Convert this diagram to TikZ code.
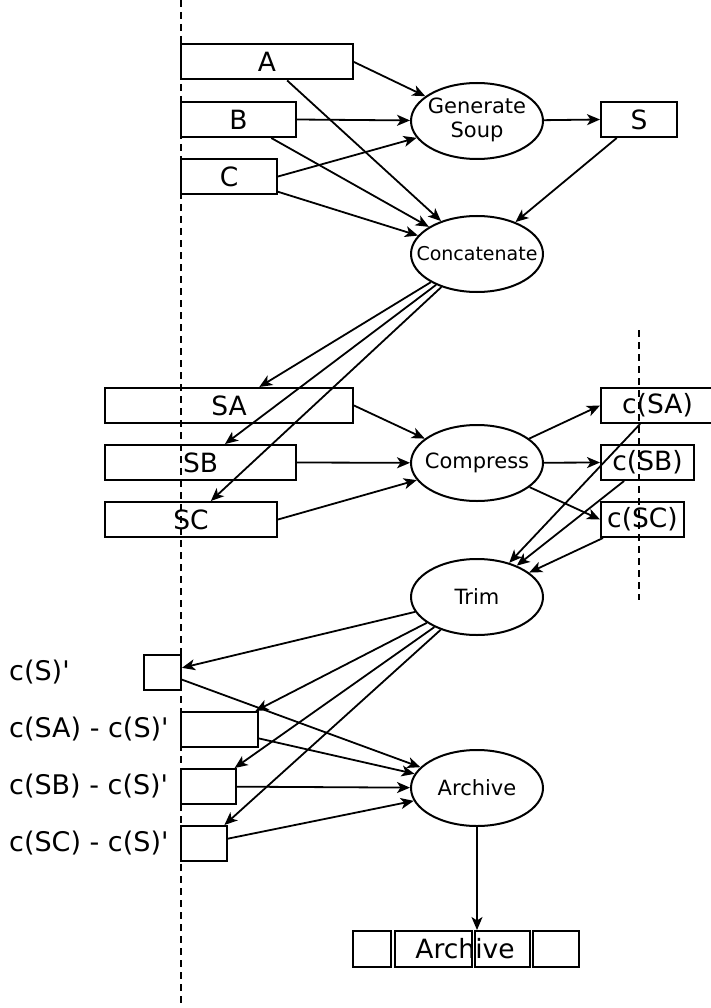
\documentclass[tikz,border=0pt]{standalone}
\usepackage{fontspec}
\setmainfont{DejaVu Sans}
\usetikzlibrary{shapes.geometric,arrows.meta}
\begin{document}
\begin{tikzpicture}[x=1pt,y=-1pt,
  box/.style={draw,line width=2pt,rectangle,inner sep=0pt,minimum height=35pt,font=\fontsize{26.5}{28}\selectfont},
  proc/.style={draw,line width=2pt,ellipse,inner sep=0pt,minimum width=132pt,minimum height=76pt,font=\fontsize{21}{22}\selectfont},
  lbl/.style={anchor=west,inner sep=0pt,font=\fontsize{27}{28}\selectfont},
  arr/.style={line width=1.8pt,-{Stealth[length=13pt,width=11pt,inset=3.5pt]}},
  dashline/.style={line width=1.8pt,dash pattern=on 7pt off 5pt}]
\useasboundingbox (0,0) rectangle (711,1008);
% dashed guides
\draw[dashline] (181,0) -- (181,1008);
\draw[dashline] (639,330) -- (639,600);
% input boxes
\node[box,minimum width=172pt] (A) at (267,62) {A};
\node[box,minimum width=115pt] (B) at (238.5,119.5) {B};
\node[box,minimum width=96pt] (C) at (229,176.5) {C};
\node[box,minimum width=76pt] (S) at (639,119.5) {S};
\node[box,minimum width=248pt] (SA) at (229,405.5) {SA};
\node[box,minimum width=191pt] (SB) at (200.5,462.5) {SB};
\node[box,minimum width=172pt] (SC) at (191,519.5) {SC};
\node[box,minimum width=113pt] (cSA) at (657.5,405.5) {c(SA)};
\node[box,minimum width=93pt] (cSB) at (647.5,462.5) {c(SB)};
\node[box,minimum width=83pt] (cSC) at (642.5,519.5) {c(SC)};
\node[box,minimum width=37pt] (cS) at (162.5,672.5) {};
\node[box,minimum width=77pt] (dSA) at (219.5,729.5) {};
\node[box,minimum width=55pt] (dSB) at (208.5,786.5) {};
\node[box,minimum width=46pt] (dSC) at (204,843.5) {};
% left labels
\node[lbl] (lS) at (9,672.5) {c(S)\textquotesingle};
\node[lbl] (lSA) at (9,729.5) {c(SA) - c(S)\textquotesingle};
\node[lbl] (lSB) at (9,786.5) {c(SB) - c(S)\textquotesingle};
\node[lbl] (lSC) at (9,843.5) {c(SC) - c(S)\textquotesingle};
% archive row
\node[box,minimum width=38pt,minimum height=36pt] (ab1) at (372,949) {};
\node[box,minimum width=77pt,minimum height=36pt] (ab2) at (433.5,949) {};
\node[box,minimum width=55pt,minimum height=36pt] (ab3) at (502.5,949) {};
\node[box,minimum width=46pt,minimum height=36pt] (ab4) at (556,949) {};
\node[inner sep=0pt,font=\fontsize{26.5}{28}\selectfont] (atext) at (465,949) {Archive};
% processes
\node[proc] (gen) at (477,121) {\makebox[0pt]{\raisebox{-2pt}{\begin{tabular}{@{}c@{}}Generate\\[2pt]Soup\end{tabular}}}};
\node[proc] (conc) at (477,254) {\makebox[0pt]{\fontsize{19}{20}\selectfont Concatenate}};
\node[proc] (comp) at (477,463) {\makebox[0pt]{Compress}};
\node[proc] (trim) at (477,597) {\makebox[0pt]{Trim}};
\node[proc] (arch) at (477,788) {\makebox[0pt]{Archive}};
% connectors
\draw[arr] (A.east) -- (gen);
\draw[arr] (B.east) -- (gen);
\draw[arr] (C.east) -- (gen);
\draw[arr] (A) -- (conc);
\draw[arr] (B) -- (conc);
\draw[arr] (C) -- (conc);
\draw[arr] (gen) -- (S.west);
\draw[arr] (S) -- (conc);
\draw[arr] (conc) -- (SA);
\draw[arr] (conc) -- (SB);
\draw[arr] (conc) -- (SC);
\draw[arr] (SA.east) -- (comp);
\draw[arr] (SB.east) -- (comp);
\draw[arr] (SC.east) -- (comp);
\draw[arr] (comp) -- (cSA.west);
\draw[arr] (comp) -- (cSB.west);
\draw[arr] (comp) -- (cSC.west);
\draw[arr] (cSA) -- (trim);
\draw[arr] (cSB) -- (trim);
\draw[arr] (cSC) -- (trim);
\draw[arr] (trim) -- (cS);
\draw[arr] (trim) -- (dSA);
\draw[arr] (trim) -- (dSB);
\draw[arr] (trim) -- (dSC);
\draw[arr] (cS) -- (arch);
\draw[arr] (dSA) -- (arch);
\draw[arr] (dSB) -- (arch);
\draw[arr] (dSC) -- (arch);
\draw[arr] (arch) -- (arch |- ab3.north);
\end{tikzpicture}
\end{document}
